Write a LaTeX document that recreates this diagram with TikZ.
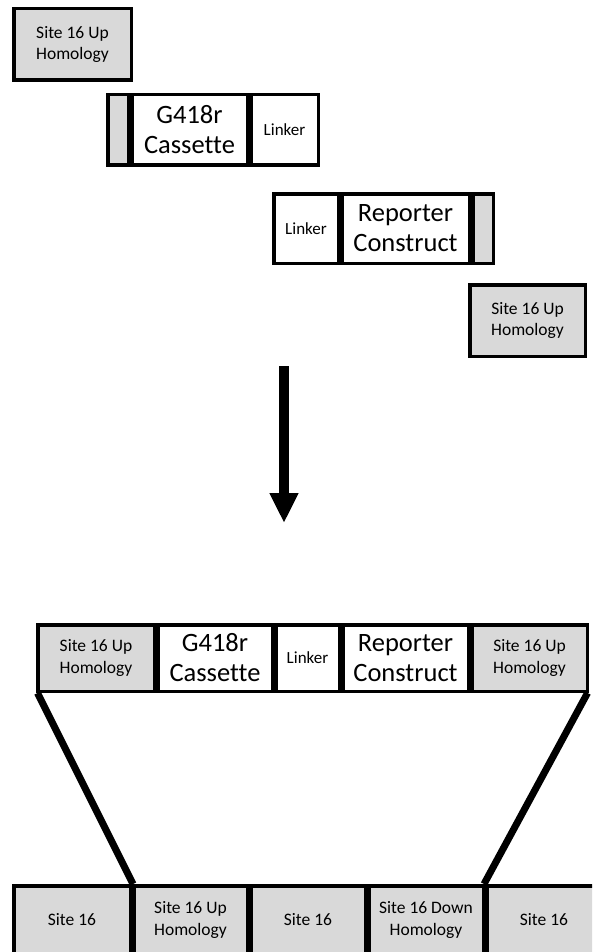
\documentclass[tikz,border=0pt]{standalone}
\usepackage{fontspec}
\setmainfont[Ligatures={NoCommon,NoRare,NoContextual}]{Carlito}
\usetikzlibrary{arrows.meta}
\definecolor{boxgray}{HTML}{D9D9D9}
\tikzset{
  x=1pt, y=-1pt,
  blk/.style={draw=black, line width=3.5pt, inner sep=0pt, align=center},
  graybox/.style={blk, fill=boxgray, font=\fontsize{17.5}{21.5}\selectfont},
  whitesmall/.style={blk, fill=white, font=\fontsize{17}{21}\selectfont},
  whitebig/.style={blk, fill=white, font=\fontsize{26.5}{30}\selectfont},
  strip/.style={blk, fill=boxgray},
  joinline/.style={line width=7pt, line cap=butt},
  bigarrow/.style={line width=10pt, -{Triangle[width=27pt,length=30pt]}}
}
\newcommand\mkbox[7]{\node[#6, minimum width={#4-#2-3.5}, minimum height={#5-#3-3.5}] (#1) at ({(#2+#4)/2},{(#3+#5)/2}) {#7};}
\begin{document}
\begin{tikzpicture}
\useasboundingbox (0,0) rectangle (592,952);
\clip (0,0) rectangle (592,952);
% top fragments
\mkbox{upA}{12}{7}{133}{82}{graybox}{Site 16 Up\\Homology}
\mkbox{stripA}{106}{93}{130}{167}{strip}{}
\mkbox{g418}{130}{93}{249}{167}{whitebig}{G418r\\Cassette}
\mkbox{linkA}{249}{93}{320}{167}{whitesmall}{Linker}
\mkbox{linkB}{272}{192}{340}{265}{whitesmall}{Linker}
\mkbox{repB}{340}{192}{471}{265}{whitebig}{Reporter\\Construct}
\mkbox{stripB}{471}{192}{495}{265}{strip}{}
\mkbox{upB}{468}{283}{587}{358}{graybox}{Site 16 Up\\Homology}
% arrow
\coordinate (arrS) at (284,366);
\coordinate (arrE) at (284,523);
\draw[bigarrow] (arrS) -- (arrE);
% assembled construct
\mkbox{c1}{36}{623}{156}{693}{graybox}{Site 16 Up\\Homology}
\mkbox{c2}{156}{623}{274}{693}{whitebig}{G418r\\Cassette}
\mkbox{c3}{274}{623}{341}{693}{whitesmall}{Linker}
\mkbox{c4}{341}{623}{470}{693}{whitebig}{Reporter\\Construct}
\mkbox{c5}{470}{623}{589}{693}{graybox}{Site 16 Up\\Homology}
% genome
\mkbox{g1}{12}{884}{132}{956}{graybox}{Site 16}
\mkbox{g2}{132}{884}{249}{956}{graybox}{Site 16 Up\\Homology}
\mkbox{g3}{249}{884}{367}{956}{graybox}{Site 16}
\mkbox{g4}{367}{884}{485}{956}{graybox}{Site 16 Down\\Homology}
\mkbox{g5}{485}{884}{603}{956}{graybox}{Site 16}
% connecting lines
\draw[joinline] ([xshift=1.5pt]c1.south west) -- ([xshift=1pt]g2.north west);
\draw[joinline] ([xshift=-1.5pt]c5.south east) -- ([xshift=-1pt]g5.north west);
\end{tikzpicture}
\end{document}
